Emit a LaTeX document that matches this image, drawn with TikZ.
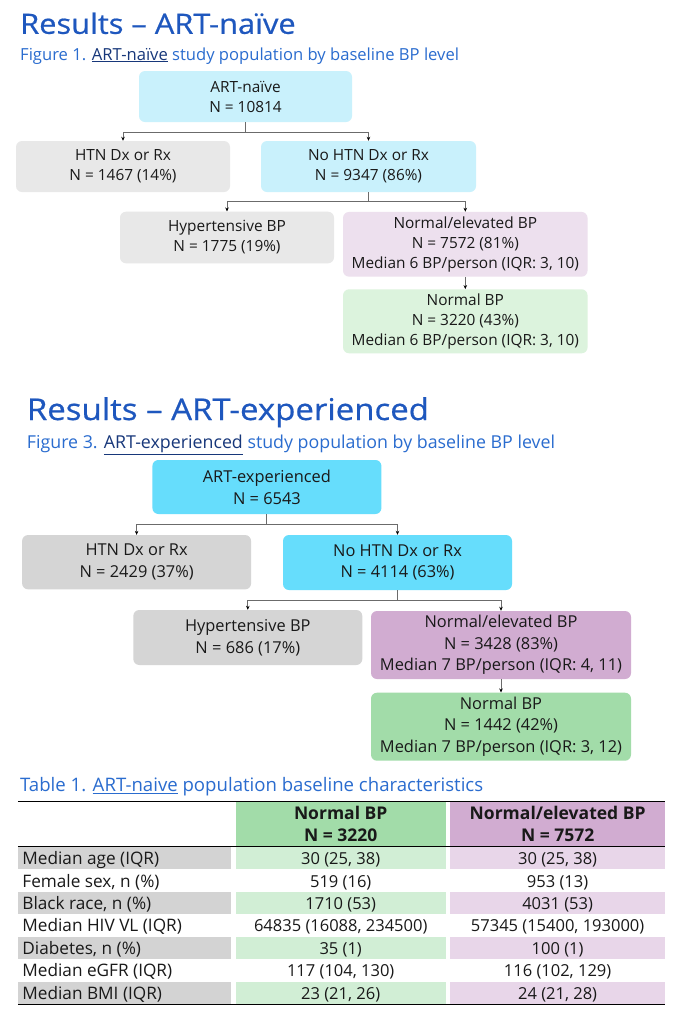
\documentclass[tikz,border=0pt]{standalone}
\usepackage{fontspec}
\setmainfont{Open Sans}
\newfontfamily\ttlfont{Open Sans}[FakeStretch=1.1, FakeBold=0.6]
\usetikzlibrary{arrows.meta}
\definecolor{ttl}{HTML}{1E57BE}
\definecolor{sub}{HTML}{2A6CCF}
\definecolor{navy}{HTML}{17377A}
\definecolor{cyanA}{HTML}{C9F1FC}
\definecolor{grayA}{HTML}{E8E8E8}
\definecolor{purA}{HTML}{EDE0EE}
\definecolor{grnA}{HTML}{DCF3DD}
\definecolor{cyanB}{HTML}{66DDFC}
\definecolor{grayB}{HTML}{D5D5D5}
\definecolor{purB}{HTML}{D1ACD1}
\definecolor{grnB}{HTML}{A2DCA9}
\definecolor{grnL}{HTML}{D1EED5}
\definecolor{purL}{HTML}{E8D6E9}
\definecolor{grayL}{HTML}{D3D3D3}
\definecolor{conn}{HTML}{6B6B6B}
\tikzset{
  fbox/.style={rounded corners=6pt, inner sep=0pt, align=center, text=black!90},
  fA/.style={fbox, font=\fontsize{15.4}{20}\selectfont},
  fB/.style={fbox, font=\fontsize{16.4}{21.7}\selectfont},
  cline/.style={draw=conn, line width=0.9pt},
  carr/.style={draw=conn, line width=0.9pt, -{Stealth[length=4pt,width=3.5pt,black]}},
  cell/.style={anchor=north west, inner sep=0pt, outer sep=0pt, draw=none},
  tx/.style={font=\fontsize{16.5}{20}\selectfont, inner sep=0pt, text=black!90},
  lb/.style={font=\fontsize{17.2}{20}\selectfont, inner sep=0pt, text=black!90},
  hd/.style={font=\fontsize{17.5}{21.7}\bfseries\selectfont, inner sep=0pt, align=center, text=black!90}
}
\begin{document}
\begin{tikzpicture}[x=1pt,y=-1pt]
\useasboundingbox[fill=white] (0,0) rectangle (694,1026);

% ---------- Section 1 ----------
\node[anchor=base west, inner sep=0pt, text=ttl, font=\fontsize{28}{32}\ttlfont] (t1) at (20,33.8) {Results – ART-naïve};
\node[anchor=base west, inner sep=0pt, text=sub, font=\fontsize{16.6}{20}\selectfont] (s1) at (20,60) {Figure 1. \textcolor{navy}{\underline{ART-naïve}} study population by baseline BP level};

\node[fA, fill=cyanA, minimum width=213pt, minimum height=51pt] (r1) at (245.5,96.5) {ART-naïve\\N = 10814};
\node[fA, fill=grayA, minimum width=214pt, minimum height=51pt] (h1) at (123,166.5) {HTN Dx or Rx\\N = 1467 (14\%)};
\node[fA, fill=cyanA, minimum width=215pt, minimum height=51pt] (n1) at (368.5,166.5) {No HTN Dx or Rx\\N = 9347 (86\%)};
\node[fA, fill=grayA, minimum width=214pt, minimum height=51.6pt] (hy1) at (227,237.5) {Hypertensive BP\\N = 1775 (19\%)};
\node[fA, fill=purA, minimum width=244.5pt, minimum height=64.7pt] (ne1) at (465.3,244.3) {Normal/elevated BP\\N = 7572 (81\%)\\Median 6 BP/person (IQR: 3, 10)};
\node[fA, fill=grnA, minimum width=244.5pt, minimum height=64pt] (nb1) at (465.3,321.3) {Normal BP\\N = 3220 (43\%)\\Median 6 BP/person (IQR: 3, 10)};

\coordinate (j1) at (245.5,132);
\draw[cline] (r1.south) -- (j1);
\draw[carr] (j1) -| (h1.north);
\draw[carr] (j1) -| (n1.north);
\coordinate (j2) at (368.5,201.7);
\draw[cline] (n1.south) -- (j2);
\draw[carr] (j2) -| (hy1.north);
\draw[carr] (j2) -| (ne1.north);
\draw[carr] (ne1.south) -- (nb1.north);

% ---------- Section 2 ----------
\node[anchor=base west, inner sep=0pt, text=ttl, font=\fontsize{30}{34}\ttlfont] (t2) at (26.7,420) {Results – ART-experienced};
\node[anchor=base west, inner sep=0pt, text=sub, font=\fontsize{17.8}{20}\selectfont] (s2) at (26.7,448.3) {Figure 3. \textcolor{navy}{\underline{ART-experienced}} study population by baseline BP level};

\node[fB, fill=cyanB, minimum width=229pt, minimum height=54pt] (r2) at (266.9,487) {ART-experienced\\N = 6543};
\node[fB, fill=grayB, minimum width=229pt, minimum height=54.3pt] (h2) at (136.6,562.2) {HTN Dx or Rx\\N = 2429 (37\%)};
\node[fB, fill=cyanB, minimum width=229pt, minimum height=55pt] (n2) at (397.5,562.5) {No HTN Dx or Rx\\N = 4114 (63\%)};
\node[fB, fill=grayB, minimum width=229pt, minimum height=55pt] (hy2) at (247.8,637.5) {Hypertensive BP\\N = 686 (17\%)};
\node[fB, fill=purB, minimum width=260pt, minimum height=68pt] (ne2) at (501,645) {Normal/elevated BP\\N = 3428 (83\%)\\Median 7 BP/person (IQR: 4, 11)};
\node[fB, fill=grnB, minimum width=260pt, minimum height=68pt] (nb2) at (501,726.7) {Normal BP\\N = 1442 (42\%)\\Median 7 BP/person (IQR: 3, 12)};

\coordinate (j3) at (266.9,524.3);
\draw[cline] (r2.south) -- (j3);
\draw[carr] (j3) -| (h2.north);
\draw[carr] (j3) -| (n2.north);
\coordinate (j4) at (397.5,600);
\draw[cline] (n2.south) -- (j4);
\draw[carr] (j4) -| (hy2.north);
\draw[carr] (j4) -| (ne2.north);
\draw[carr] (ne2.south) -- (nb2.north);

% ---------- Table ----------
\node[anchor=base west, inner sep=0pt, text=sub, font=\fontsize{18.6}{20}\selectfont] (s3) at (20,791.7) {Table 1. \underline{ART-naive} population baseline characteristics};

\node[cell, fill=grnB, minimum width=210.2pt, minimum height=43.7pt] (hg) at (235.6,802.3) {};
\node[cell, fill=purB, minimum width=215.3pt, minimum height=43.7pt] (hp) at (450,802.3) {};
\node[hd] (hgt) at (hg.center) {Normal BP\\N = 3220};
\node[hd] (hpt) at (hp.center) {Normal/elevated BP\\N = 7572};

\foreach \i in {1,3,5,7}{
  \pgfmathsetmacro{\tp}{847.3+(\i-1)*22.43}
  \node[cell, fill=grayL, minimum width=213.2pt, minimum height=21.7pt] (bl\i) at (17.8,\tp) {};
  \node[cell, fill=grnL, minimum width=210.2pt, minimum height=21.7pt] (bg\i) at (235.6,\tp) {};
  \node[cell, fill=purL, minimum width=215.3pt, minimum height=21.7pt] (bp\i) at (450,\tp) {};
}

\coordinate (tl) at (17.8,801.7);
\coordinate (tr) at (665.3,801.7);
\coordinate (ml) at (17.8,846.3);
\coordinate (mr) at (665.3,846.3);
\coordinate (bl) at (17.8,1004.3);
\coordinate (br) at (665.3,1004.3);
\draw[line width=1pt] (tl) -- (tr);
\draw[line width=0.6pt] (ml) -- (mr);
\draw[line width=1pt] (bl) -- (br);

\foreach \i/\a/\b/\c in {
  1/{Median age (IQR)}/{30 (25, 38)}/{30 (25, 38)},
  2/{Female sex, n (\%)}/{519 (16)}/{953 (13)},
  3/{Black race, n (\%)}/{1710 (53)}/{4031 (53)},
  4/{Median HIV VL (IQR)}/{64835 (16088, 234500)}/{57345 (15400, 193000)},
  5/{Diabetes, n (\%)}/{35 (1)}/{100 (1)},
  6/{Median eGFR (IQR)}/{117 (104, 130)}/{116 (102, 129)},
  7/{Median BMI (IQR)}/{23 (21, 26)}/{24 (21, 28)}}{
  \pgfmathsetmacro{\bs}{847.3+(\i-1)*22.43+17.3}
  \node[lb, anchor=base west] (la\i) at (22.2,\bs) {\a};
  \node[tx, anchor=base] (va\i) at (340.7,\bs) {\b};
  \node[tx, anchor=base] (vb\i) at (557.6,\bs) {\c};
}
\end{tikzpicture}
\end{document}
